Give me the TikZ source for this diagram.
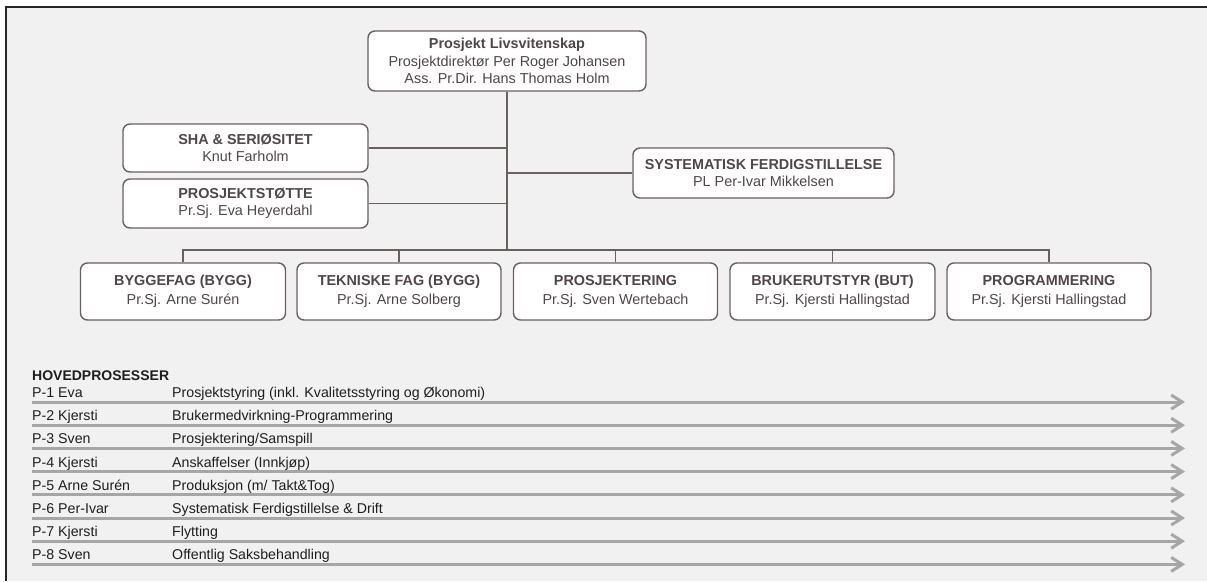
\documentclass[tikz,border=0pt]{standalone}
\usepackage{fontspec}
\setmainfont{Liberation Sans}
\usetikzlibrary{arrows.meta}
\definecolor{boxline}{HTML}{6A605E}
\definecolor{boxtext}{HTML}{4F4747}
\definecolor{bgc}{HTML}{F1F1F1}
\definecolor{arrowc}{HTML}{A6A6A6}
\definecolor{rowtext}{HTML}{1E1E1E}
\begin{document}
\begin{tikzpicture}[x=1pt,y=-1pt,
  orgbox/.style={draw=boxline, line width=1.4pt, rounded corners=7pt, fill=white,
    text=boxtext, align=center, font=\fontsize{14.4}{17.5}\selectfont, inner sep=0pt},
  lowbox/.style={orgbox, minimum height=57, font=\fontsize{14.4}{18.5}\selectfont},
  link/.style={draw=boxline, line width=1.4pt},
  rowtxt/.style={anchor=base west, text=rowtext, font=\fontsize{14.2}{16}\selectfont, inner sep=0pt},
  procarrow/.style={draw=arrowc, line width=3pt, -{Straight Barb[length=11pt,width=14pt]}}]
\useasboundingbox (0,0) rectangle (1207,581);
\fill[white] (0,0) rectangle (1207,581);
\fill[bgc] (6,7) rectangle (1207,581);
\draw[line width=1.5pt, black!85] (6,581) -- (6,7) -- (1207,7);

% org boxes
\node[orgbox, minimum width=278, minimum height=60] (top) at (507,61)
  {\textbf{Prosjekt Livsvitenskap}\\Prosjektdirektør Per Roger Johansen\\Ass. Pr.Dir. Hans Thomas Holm};
\node[orgbox, minimum width=245, minimum height=48] (sha) at (245.5,148)
  {\textbf{SHA \& SERIØSITET}\\Knut Farholm};
\node[orgbox, minimum width=245, minimum height=49] (pst) at (245.5,203.5)
  {\textbf{PROSJEKTSTØTTE}\\Pr.Sj. Eva Heyerdahl};
\node[orgbox, minimum width=261, minimum height=50] (sys) at (763.5,173)
  {\textbf{SYSTEMATISK FERDIGSTILLELSE}\\PL Per-Ivar Mikkelsen};

\node[lowbox, minimum width=205] (b1) at (183,291.5)
  {\textbf{BYGGEFAG (BYGG)}\\Pr.Sj. Arne Surén};
\node[lowbox, minimum width=204] (b2) at (399,291.5)
  {\textbf{TEKNISKE FAG (BYGG)}\\Pr.Sj. Arne Solberg};
\node[lowbox, minimum width=204] (b3) at (615.5,291.5)
  {\textbf{PROSJEKTERING}\\Pr.Sj. Sven Wertebach};
\node[lowbox, minimum width=205] (b4) at (832.5,291.5)
  {\textbf{BRUKERUTSTYR (BUT)}\\Pr.Sj. Kjersti Hallingstad};
\node[lowbox, minimum width=204] (b5) at (1049,291.5)
  {\textbf{PROGRAMMERING}\\Pr.Sj. Kjersti Hallingstad};

% connectors
\coordinate (jb) at (507,250);
\draw[link] (top.south) -- (jb);
\draw[link] (sha.east) -- (sha.east -| top.south);
\draw[link] (pst.east) -- (pst.east -| top.south);
\draw[link] (sys.west) -- (sys.west -| top.south);
\draw[link] (b1.north) |- (jb) -| (b5.north);
\draw[link] (b2.north) -- (b2.north |- jb);
\draw[link] (b3.north) -- (b3.north |- jb);
\draw[link] (b4.north) -- (b4.north |- jb);

% processes
\node[anchor=base west, text=rowtext, font=\bfseries\fontsize{14}{16}\selectfont, inner sep=0pt] (hp) at (32,380) {HOVEDPROSESSER};
\foreach \i/\a/\b in {
  1/P-1 Eva/Prosjektstyring (inkl. Kvalitetsstyring og Økonomi),
  2/P-2 Kjersti/Brukermedvirkning-Programmering,
  3/P-3 Sven/Prosjektering\slash Samspill,
  4/P-4 Kjersti/Anskaffelser (Innkjøp),
  5/P-5 Arne Surén/Produksjon (m\slash\ Takt\&Tog),
  6/P-6 Per-Ivar/Systematisk Ferdigstillelse \& Drift,
  7/P-7 Kjersti/Flytting,
  8/P-8 Sven/Offentlig Saksbehandling}{
  \pgfmathsetmacro{\yy}{402+23.2*(\i-1)}
  \coordinate (s\i) at (32,\yy);
  \coordinate (e\i) at (1185,\yy);
  \draw[procarrow] (s\i) -- (e\i);
  \node[rowtxt] (l\i) at (32,\yy-4.5) {\a};
  \node[rowtxt] (d\i) at (172,\yy-4.5) {\b};
}
\end{tikzpicture}
\end{document}
